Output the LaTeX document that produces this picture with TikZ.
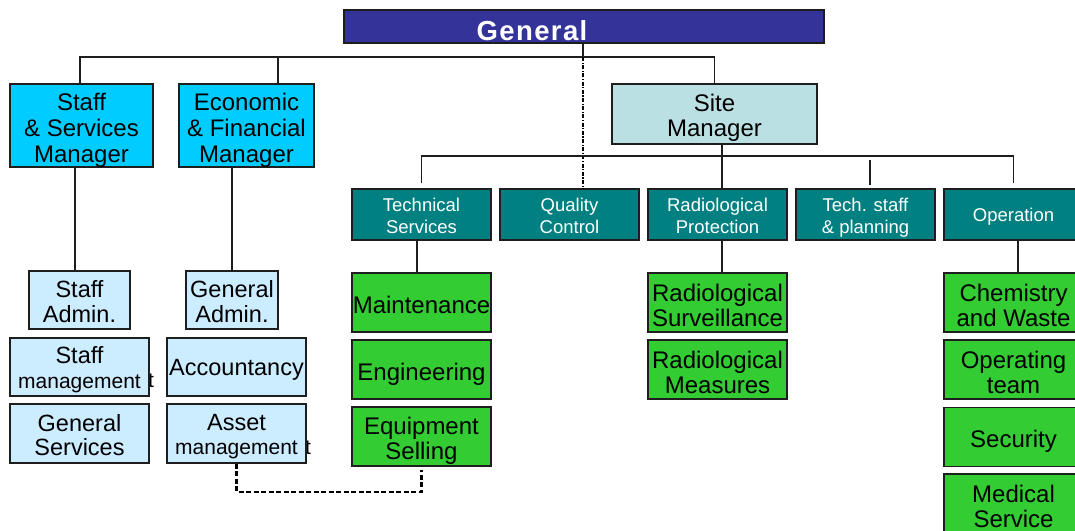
\documentclass[tikz,border=0pt]{standalone}
\usepackage{fontspec}
\setmainfont{Liberation Sans}
\usetikzlibrary{calc}
\definecolor{navy}{HTML}{333399}
\definecolor{cyanbox}{HTML}{00CCFF}
\definecolor{sitebox}{HTML}{BBE0E3}
\definecolor{tealbox}{HTML}{008080}
\definecolor{greenbox}{HTML}{33CC33}
\definecolor{paleblue}{HTML}{CCECFF}
\definecolor{edge}{HTML}{1E1E1E}
% centred lines of a box, drawn a little lower than the box centre
\newcommand{\boxlines}[2]{\raisebox{-#1}[\height][\depth]{\begin{tabular}{@{}c@{}}#2\end{tabular}}}
\tikzset{
  orgbox/.style={draw=edge, line width=1.3pt, inner sep=0pt, anchor=center},
  mgr/.style={orgbox, fill=cyanbox, font=\fontsize{24}{26}\selectfont},
  sitemgr/.style={orgbox, fill=sitebox, font=\fontsize{24}{25}\selectfont},
  dept/.style={orgbox, fill=tealbox, text=white, minimum width=139pt, minimum height=51pt,
    font=\fontsize{18.5}{22}\selectfont},
  unit/.style={orgbox, fill=greenbox, minimum width=139pt, minimum height=59pt,
    font=\fontsize{24}{25}\selectfont},
  admin/.style={orgbox, fill=paleblue, font=\fontsize{23.5}{24}\selectfont},
  link/.style={draw=edge, line width=1.2pt},
  dotlink/.style={draw=black, line width=2.2pt, dash pattern=on 4pt off 1.5pt on 1.2pt off 1.5pt},
  dashlink/.style={draw=black, line width=2.2pt, dash pattern=on 5pt off 2.5pt},
  stray/.style={inner sep=0pt, font=\fontsize{21}{21}\selectfont}
}
\newcommand{\mgmt}{{\fontsize{21}{22}\selectfont management}}
\begin{document}
\begin{tikzpicture}[x=1pt, y=-1pt]
\useasboundingbox (0,0) rectangle (1075,530);

% top of the organisation
\node[orgbox, fill=navy, minimum width=480pt, minimum height=33pt] (gen) at (584,26.5) {};
\node[text=white, inner sep=0pt, font=\fontsize{27.5}{27.5}\bfseries\addfontfeatures{LetterSpace=5}]
  (gentext) at (532,30.5) {General};

% managers
\node[mgr, minimum width=143pt, minimum height=83pt] (ssm) at (81.5,125.5)
  {\boxlines{5.5pt}{Staff\\\& Services\\Manager}};
\node[mgr, minimum width=135pt, minimum height=83pt] (efm) at (246.5,125.5)
  {\boxlines{5.5pt}{Economic\\\& Financial\\Manager}};
\node[sitemgr, minimum width=205pt, minimum height=60pt] (site) at (714.5,114)
  {\boxlines{5pt}{Site\\Manager}};

% departments under the site manager
\node[dept] (ts)  at (421.5,214.5) {\boxlines{4pt}{Technical\\Services}};
\node[dept] (qc)  at (569.5,214.5) {\boxlines{4pt}{Quality\\Control}};
\node[dept] (rp)  at (717.5,214.5) {\boxlines{4pt}{Radiological\\Protection}};
\node[dept] (tsp) at (865.5,214.5) {\boxlines{4pt}{Tech. staff\\\& planning}};
\node[dept] (op)  at (1013.5,214.5) {\boxlines{3pt}{Operation}};

% units
\node[unit] (ms)  at (421.5,302.5) {\boxlines{5.5pt}{Maintenance}};
\node[unit] (eng) at (421.5,369.5) {\boxlines{5.5pt}{Engineering}};
\node[unit] (es)  at (421.5,436.5) {\boxlines{5.5pt}{Equipment\\Selling}};
\node[unit] (rs)  at (717.5,302.5) {\boxlines{6pt}{Radiological\\Surveillance}};
\node[unit] (rm)  at (717.5,369.5) {\boxlines{6pt}{Radiological\\Measures}};
\node[unit] (cw)  at (1013.5,302.5) {\boxlines{6pt}{Chemistry\\and Waste}};
\node[unit] (ot)  at (1013.5,369.5) {\boxlines{6pt}{Operating\\team}};
\node[unit] (sec) at (1013.5,437) {\boxlines{5.5pt}{Security}};
\node[unit] (med) at (1013.5,503.5) {\boxlines{6pt}{Medical\\Service}};

% administration
\node[stray] (tA) at (151,381) {t};
\node[stray] (tB) at (308,448) {t};
\node[admin, minimum width=101pt, minimum height=58pt] (sa) at (79.5,300) {\boxlines{5pt}{Staff\\Admin.}};
\node[admin, minimum width=92pt, minimum height=58pt] (ga) at (232,300) {\boxlines{5pt}{General\\Admin.}};
\node[admin, minimum width=139pt, minimum height=58pt] (sm) at (79.5,367)
  {\boxlines{4.5pt}{Staff\\[1pt]\mgmt}};
\node[admin, minimum width=139pt, minimum height=59pt] (gs) at (79.5,433.5) {\boxlines{5pt}{General\\Services}};
\node[admin, minimum width=139pt, minimum height=58pt] (acc) at (236.5,367) {\boxlines{3.5pt}{Accountancy}};
\node[admin, minimum width=139pt, minimum height=59pt] (am) at (236.5,433.5)
  {\boxlines{4pt}{Asset\\\mgmt}};

% connectors
\coordinate (bus) at (0,57);
\coordinate (bus2) at (0,156);
\draw[link] ([xshift=-1.5pt]ssm.north) -- ([xshift=-1.5pt]ssm.north |- bus) -- (site.north |- bus) -- (site.north);
\draw[link] ([xshift=31.5pt]efm.north) -- ++(0,-25);
\draw[link] ([xshift=-1pt]gen.south) -- ([xshift=-1pt]gen.south |- bus);
\draw[dotlink] ([xshift=-1pt]gen.south |- bus) -- ([xshift=-1pt]gen.south |- qc.north);
\draw[link] ([xshift=4.5pt]rp.north) -- ([xshift=4.5pt]rp.north |- site.south);
\draw[link] ([yshift=5pt]ts.north) -- (ts.north |- bus2) -- (op.north |- bus2) -- ([yshift=5pt]op.north);
\draw[link] ([xshift=4.5pt,yshift=3pt]tsp.north) -- ++(0,-25);
\draw[link] ([xshift=-4.5pt]ts.south) -- ([xshift=-4.5pt]ms.north);
\draw[link] ([xshift=4.5pt]rp.south) -- ([xshift=4.5pt]rs.north);
\draw[link] ([xshift=4.5pt]op.south) -- ([xshift=4.5pt]cw.north);
\draw[link] ([xshift=-4.5pt]sa.north |- ssm.south) -- ([xshift=-4.5pt]sa.north);
\draw[link] (ga.north |- efm.south) -- (ga.north);
\draw[dashlink] (am.south) -- ++(0,28) -| ([yshift=-3pt]es.south);
\end{tikzpicture}
\end{document}
